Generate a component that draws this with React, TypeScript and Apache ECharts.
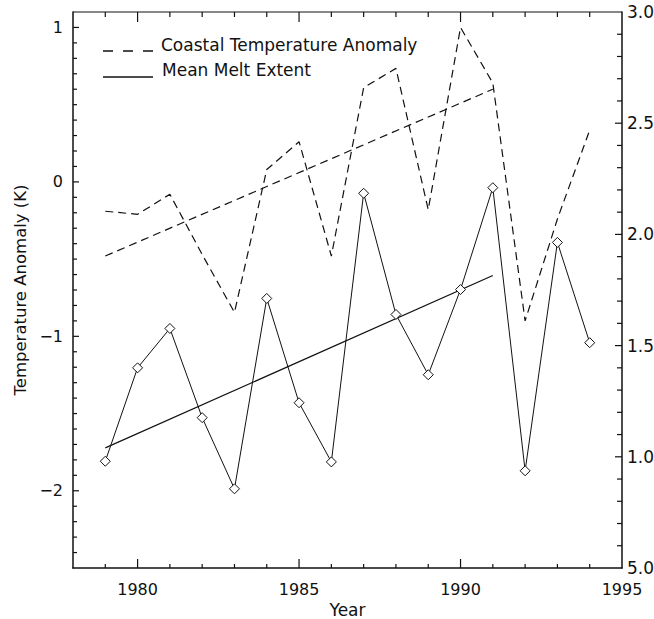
import React, { useEffect, useRef } from "react";
import * as echarts from "echarts";

const years = [1979, 1980, 1981, 1982, 1983, 1984, 1985, 1986, 1987, 1988, 1989, 1990, 1991, 1992, 1993, 1994];
const tempAnomaly = [-0.19, -0.21, -0.08, -0.47, -0.845, 0.08, 0.26, -0.48, 0.61, 0.735, -0.18, 1.0, 0.64, -0.9, -0.24, 0.335];
const meltExtent = [0.98, 1.4, 1.577, 1.176, 0.856, 1.712, 1.243, 0.977, 2.185, 1.64, 1.369, 1.752, 2.21, 0.937, 1.964, 1.513];
const trendYears = [1979, 1991];
const tempTrend = [-0.48, 0.6];
const meltTrend = [1.04, 1.815];

const xLabelValues = [1980, 1985, 1990, 1995];
const xMajorTicks = [1980, 1985, 1990];
const xMinorTicks = [1979, 1981, 1982, 1983, 1984, 1986, 1987, 1988, 1989, 1991, 1992, 1993, 1994];
const leftLabelValues = [-2, -1, 0, 1];
const rightLabelValues = [0.5, 1.0, 1.5, 2.0, 2.5, 3.0];
const rightLabelTexts = ["5.0", "1.0", "1.5", "2.0", "2.5", "3.0"];

const X_MIN = 1978;
const X_MAX = 1995;
const L_MIN = -2.5;
const L_MAX = 1.1;
const R_MIN = 0.5;
const R_MAX = 3.0;

const FONT = "DejaVu Sans";
const INK = "#111";

function steps(from: number, to: number, step: number): number[] {
  const out: number[] = [];
  const n = Math.round((to - from) / step);
  for (let i = 0; i <= n; i++) out.push(Math.round((from + i * step) * 1000) / 1000);
  return out;
}

export default function App() {
  const ref = useRef<HTMLDivElement>(null);
  useEffect(() => {
    document.body.style.margin = "0";
    const chart = echarts.init(ref.current!, null, { renderer: "svg" });
    const pair = (xs: number[], ys: number[]) => xs.map((x, i) => [x, ys[i]]);
    const isMajor = (list: number[]) => (v: number) => list.some((m) => Math.abs(m - v) < 1e-6);
    const leftMinor = steps(-2.4, 1.0, 0.1).filter((v) => !isMajor(leftLabelValues)(v));
    const rightMinor = steps(0.6, 2.9, 0.1).filter((v) => !isMajor(rightLabelValues)(v));

    const legend: any[] = [
      { type: "line", shape: { x1: 103, y1: 51, x2: 153, y2: 51 }, style: { stroke: INK, lineWidth: 1.3, lineDash: [10, 10] } },
      { type: "text", x: 161, y: 53, style: { text: "Coastal Temperature Anomaly", fill: INK, font: `17px "${FONT}"`, textVerticalAlign: "bottom" } },
      { type: "line", shape: { x1: 103, y1: 77, x2: 153, y2: 77 }, style: { stroke: INK, lineWidth: 1.3 } },
      { type: "text", x: 162, y: 78, style: { text: "Mean Melt Extent", fill: INK, font: `17px "${FONT}"`, textVerticalAlign: "bottom" } },
    ];

    const option: any = {
      animation: false,
      backgroundColor: "#fff",
      grid: { left: 73, right: 32, top: 12, bottom: 51, outerBoundsMode: "none", containLabel: false },
      xAxis: [
        {
          type: "value",
          min: X_MIN,
          max: X_MAX,
          position: "bottom",
          splitLine: { show: false },
          axisLine: { show: true, onZero: false, lineStyle: { color: INK, width: 1.6 } },
          axisTick: { show: false },
          axisLabel: {
            show: true,
            customValues: xLabelValues,
            margin: 13,
            color: INK,
            fontSize: 16,
            fontFamily: FONT,
            formatter: (v: number) => String(Math.round(v)),
          },
          name: "Year",
          nameLocation: "middle",
          nameGap: 29,
          nameTextStyle: { color: INK, fontSize: 17, fontFamily: FONT },
        },
      ],
      yAxis: [
        {
          type: "value",
          min: L_MIN,
          max: L_MAX,
          position: "left",
          splitLine: { show: false },
          axisLine: { show: true, onZero: false, lineStyle: { color: INK, width: 1.5 } },
          axisTick: { show: false },
          axisLabel: {
            show: true,
            customValues: leftLabelValues,
            margin: 10,
            color: INK,
            fontSize: 16,
            fontFamily: FONT,
            formatter: (v: number) => (v < 0 ? "\u2212" + String(Math.abs(v)) : String(v)),
          },
          name: "Temperature Anomaly (K)",
          nameLocation: "middle",
          nameGap: 40,
          nameTextStyle: { color: INK, fontSize: 16.5, fontFamily: FONT },
        },
        {
          type: "value",
          min: R_MIN,
          max: R_MAX,
          position: "right",
          splitLine: { show: false },
          axisLine: { show: true, onZero: false, lineStyle: { color: INK, width: 1.5 } },
          axisTick: { show: false },
          axisLabel: {
            show: true,
            customValues: rightLabelValues,
            margin: 5,
            color: INK,
            fontSize: 17,
            fontFamily: FONT,
            formatter: (v: number) => {
              const i = rightLabelValues.findIndex((r) => Math.abs(r - v) < 1e-6);
              return i >= 0 ? rightLabelTexts[i] : "";
            },
          },
        },
      ],
      graphic: legend,
      series: [
        {
          name: "Coastal Temperature Anomaly",
          type: "line",
          xAxisIndex: 0,
          yAxisIndex: 0,
          data: pair(years, tempAnomaly),
          showSymbol: false,
          symbol: "none",
          lineStyle: { color: INK, width: 1.2, type: [8, 5] },
        },
        {
          name: "Temperature Trend",
          type: "line",
          xAxisIndex: 0,
          yAxisIndex: 0,
          data: pair(trendYears, tempTrend),
          symbol: "none",
          lineStyle: { color: INK, width: 1.2, type: [8, 5] },
        },
        {
          name: "Mean Melt Extent",
          type: "line",
          xAxisIndex: 0,
          yAxisIndex: 1,
          data: pair(years, meltExtent),
          symbol: "diamond",
          symbolSize: [10, 10],
          showAllSymbol: true,
          itemStyle: { color: "#fff", borderColor: INK, borderWidth: 1 },
          lineStyle: { color: INK, width: 1 },
          z: 3,
        },
        {
          name: "Melt Trend",
          type: "line",
          xAxisIndex: 0,
          yAxisIndex: 1,
          data: pair(trendYears, meltTrend),
          symbol: "none",
          lineStyle: { color: INK, width: 1.2 },
        },
      ],
    };
    chart.setOption(option);

    // pixel positions through the chart's own axes
    const xPx = (x: number): number => Number(chart.convertToPixel({ xAxisIndex: 0 } as any, x as any));
    const yPx = (y: number, yi: number): number => Number(chart.convertToPixel({ yAxisIndex: yi } as any, y as any));
    const rect = (x: number, y: number, w: number, h: number) => ({
      type: "rect",
      shape: { x, y, width: w, height: h },
      style: { fill: INK },
    });
    const marks: any[] = [];
    const left = xPx(X_MIN);
    const right = xPx(X_MAX);
    const top = yPx(L_MAX, 0);
    const bottom = yPx(L_MIN, 0);
    marks.push(rect(left, top - 0.6, right - left, 1.2));
    const addX = (vals: number[], bl: number, tl: number) =>
      vals.forEach((v) => {
        const x = xPx(v);
        marks.push(rect(x - 0.6, bottom - bl, 1.2, bl));
        marks.push(rect(x - 0.6, top, 1.2, tl));
      });
    addX(xMajorTicks, 9, 10);
    addX(xMinorTicks, 4, 5);
    const addY = (vals: number[], yi: number, len: number) =>
      vals.forEach((v) => {
        const y = yPx(v, yi);
        if (yi === 0) marks.push(rect(left, y - 0.6, len, 1.2));
        else marks.push(rect(right - len, y - 0.6, len, 1.2));
      });
    addY(leftLabelValues.filter((v) => v > L_MIN && v < L_MAX), 0, 6);
    addY(leftMinor, 0, 4);
    addY(rightLabelValues.filter((v) => v > R_MIN && v < R_MAX), 1, 7);
    addY(rightMinor, 1, 5);
    chart.setOption({ graphic: [...legend, ...marks] });

    return () => chart.dispose();
  }, []);
  return <div ref={ref} style={{ width: 654, height: 619 }} />;
}
